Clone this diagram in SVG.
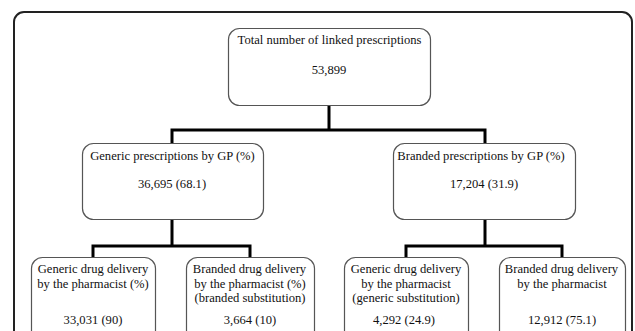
<svg xmlns="http://www.w3.org/2000/svg" width="635" height="331" viewBox="0 0 635 331">
<style>
.frame{fill:none;stroke:#222;stroke-width:2}
.box{fill:#fff;stroke:#555;stroke-width:1.2}
.conn{fill:none;stroke:#000;stroke-width:3;stroke-linejoin:miter;stroke-linecap:square}
text{font-family:"Liberation Serif","Times New Roman",serif;font-size:12.6px;fill:#111;text-anchor:middle}
</style>
<rect width="635" height="331" fill="#fff"/>
<rect class="frame" x="14" y="12" width="618" height="345" rx="10"/>
<g id="connectors">
<path class="conn" d="M329,106 V130 M172,143 V130 H485 V143"/>
<path class="conn" d="M172,220 V246 M93,257 V246 H250 V257"/>
<path class="conn" d="M485,220 V246 M406,257 V246 H562 V257"/>
</g>
<g id="n-total">
<rect class="box" x="228.5" y="28.5" width="202" height="77" rx="11"/>
<text x="329.5" y="44">Total number of linked prescriptions</text>
<text x="329" y="74">53,899</text>
</g>
<g id="n-generic-gp">
<rect class="box" x="82.5" y="143.5" width="181" height="76" rx="11"/>
<text x="172.5" y="160">Generic prescriptions by GP (%)</text>
<text x="172" y="188">36,695 (68.1)</text>
</g>
<g id="n-branded-gp">
<rect class="box" x="393.5" y="143.5" width="182" height="76" rx="11"/>
<text x="481" y="160">Branded prescriptions by GP (%)</text>
<text x="484" y="188">17,204 (31.9)</text>
</g>
<g id="n-generic-generic">
<rect class="box" x="31.5" y="257.5" width="124" height="90" rx="11"/>
<text x="93" y="273">Generic drug delivery</text>
<text x="93" y="288">by the pharmacist (%)</text>
<text x="93" y="324">33,031 (90)</text>
</g>
<g id="n-generic-branded">
<rect class="box" x="186.5" y="257.5" width="128" height="90" rx="11"/>
<text x="249.5" y="273">Branded drug delivery</text>
<text x="250" y="288">by the pharmacist (%)</text>
<text x="250" y="302">(branded substitution)</text>
<text x="250" y="324">3,664 (10)</text>
</g>
<g id="n-branded-generic">
<rect class="box" x="344.5" y="257.5" width="124" height="90" rx="11"/>
<text x="406" y="273">Generic drug delivery</text>
<text x="406" y="288">by the pharmacist</text>
<text x="406" y="302">(generic substitution)</text>
<text x="404" y="324">4,292 (24.9)</text>
</g>
<g id="n-branded-branded">
<rect class="box" x="499.5" y="257.5" width="126" height="90" rx="11"/>
<text x="561.5" y="273">Branded drug delivery</text>
<text x="562" y="288">by the pharmacist</text>
<text x="562" y="324">12,912 (75.1)</text>
</g>
</svg>
